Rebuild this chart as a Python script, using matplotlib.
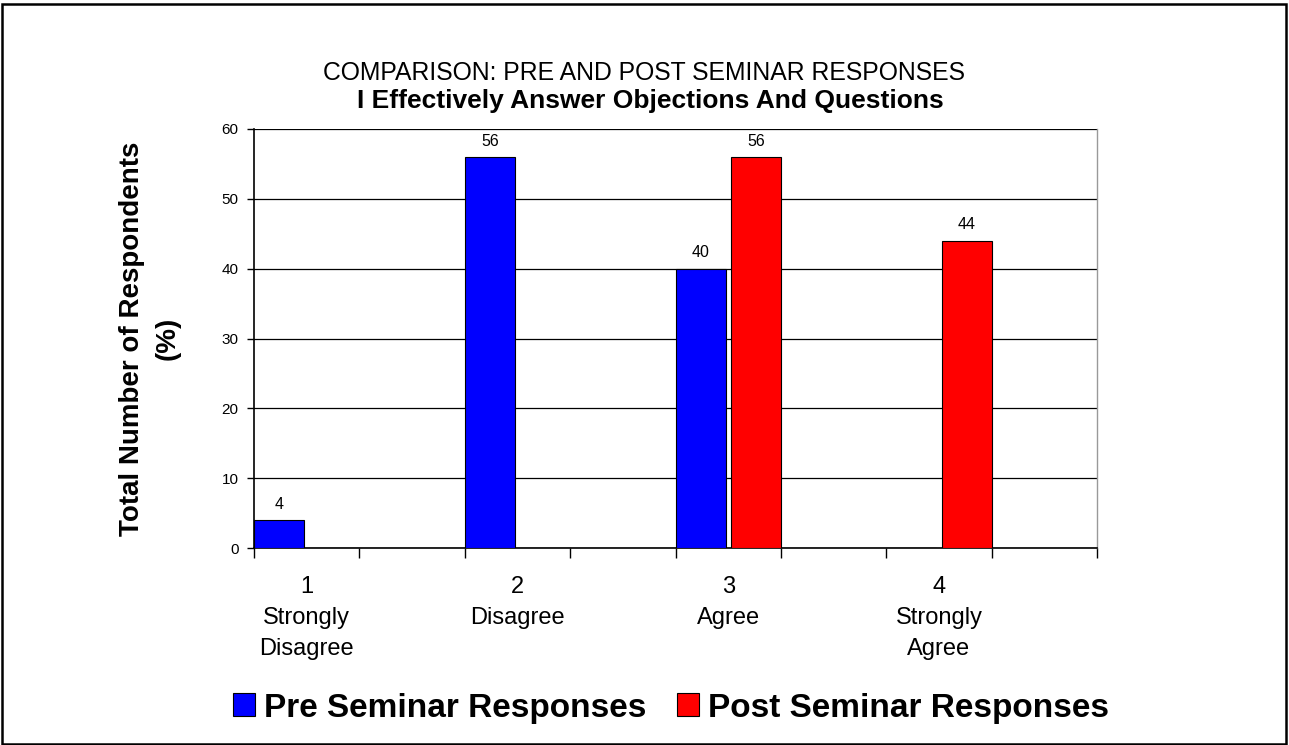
import matplotlib
matplotlib.use("Agg")
import matplotlib.pyplot as plt
from matplotlib.patches import Rectangle, Patch

# Survey data: share of respondents (%) per response category
categories = ["1\nStrongly\nDisagree", "2\nDisagree", "3\nAgree", "4\nStrongly\nAgree"]
pre_seminar = [4, 56, 40, 0]
post_seminar = [0, 0, 56, 44]
series_names = ["Pre Seminar Responses", "Post Seminar Responses"]
y_ticks = [0, 10, 20, 30, 40, 50, 60]

plt.rcParams["font.family"] = ["Liberation Sans", "DejaVu Sans"]

W, H = 1289, 745
fig = plt.figure(figsize=(W / 100, H / 100), dpi=100)
fig.patch.set_facecolor("white")

# plot area in pixel coordinates
x0, x1, y0, y1 = 254, 1097, 129, 548
ax = fig.add_axes([x0 / W, 1 - y1 / H, (x1 - x0) / W, (y1 - y0) / H])

slot = 2          # each category occupies two slots
bw = 0.475        # bar width in slot units
gap = 0.05
for i, (a, b) in enumerate(zip(pre_seminar, post_seminar)):
    left = i * slot
    ax.bar(left, a, width=bw, align="edge", color="#0000FF",
           edgecolor="black", linewidth=0.8, zorder=3)
    ax.bar(left + bw + gap, b, width=bw, align="edge", color="#FF0000",
           edgecolor="black", linewidth=0.8, zorder=3)
    if a:
        ax.annotate(str(a), (left + bw / 2, a), xytext=(0, 6),
                    textcoords="offset points", ha="center", va="bottom",
                    fontsize=11.5)
    if b:
        ax.annotate(str(b), (left + bw + gap + bw / 2, b), xytext=(0, 6),
                    textcoords="offset points", ha="center", va="bottom",
                    fontsize=11.5)

ax.set_xlim(0, slot * len(categories))
ax.set_ylim(0, 60)
ax.set_yticks(y_ticks)
ax.tick_params(axis="y", labelsize=11, length=5, width=1, direction="out", pad=6)
ax.yaxis.grid(True, color="black", linewidth=0.9, zorder=0)
ax.set_axisbelow(True)

ax.set_xticks([i * slot + 0.5 for i in range(len(categories))])
ax.set_xticklabels(categories, fontsize=17, linespacing=1.55, va="top")
ax.tick_params(axis="x", length=0, pad=20)
ax.set_xticks(range(0, slot * len(categories) + 1), minor=True)
ax.tick_params(axis="x", which="minor", length=7, width=1, direction="out")

for s in ["left", "bottom"]:
    ax.spines[s].set_linewidth(1.2)
    ax.spines[s].set_color("black")
ax.spines["top"].set_visible(False)
ax.spines["right"].set_color("#999999")
ax.spines["right"].set_linewidth(1)

ax.set_ylabel("Total Number of Respondents\n(%)", fontsize=20, fontweight="bold",
              linespacing=1.5)
ax.yaxis.set_label_coords(-0.087, 0.5)

fig.text(644 / W, 1 - 73 / H, "COMPARISON: PRE AND POST SEMINAR RESPONSES",
         ha="center", va="center", fontsize=17.8)
fig.text(650 / W, 1 - 101 / H, "I Effectively Answer Objections And Questions",
         ha="center", va="center", fontsize=19, fontweight="bold")

handles = [Patch(facecolor="#0000FF", edgecolor="black", linewidth=0.8),
           Patch(facecolor="#FF0000", edgecolor="black", linewidth=0.8)]
fig.legend(handles, series_names, loc="center", bbox_to_anchor=(671 / W, 1 - 708 / H),
           ncol=2, frameon=False, prop={"size": 24, "weight": "bold"},
           handlelength=0.68, handleheight=0.68, handletextpad=0.27,
           columnspacing=0.9, borderpad=0, borderaxespad=0)

fig.patches.append(Rectangle((2 / W, 1.5 / H), (W - 5) / W, (H - 5) / H,
                             transform=fig.transFigure, fill=False,
                             edgecolor="black", linewidth=1.8))

fig.savefig("out.png", dpi=100, facecolor="white")
